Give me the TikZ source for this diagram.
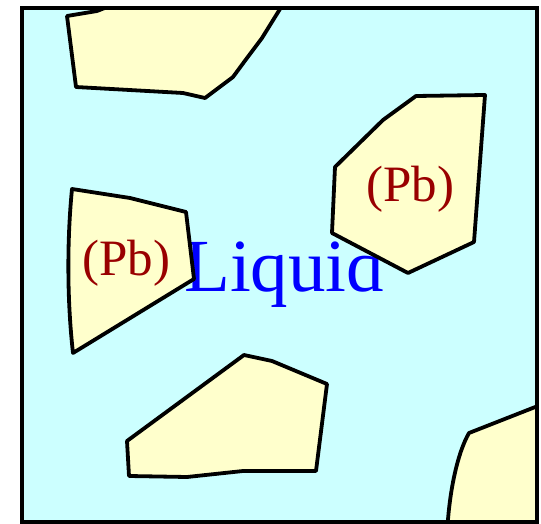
\documentclass[tikz,border=0pt]{standalone}
\usepackage{fontspec}
\setmainfont{Liberation Serif}
\definecolor{liq}{RGB}{204,255,255}
\definecolor{sol}{RGB}{255,255,204}
\definecolor{pbred}{RGB}{153,0,0}
\definecolor{liqblue}{RGB}{0,0,255}
\begin{document}
\begin{tikzpicture}[x=1pt,y=-1pt,
  grain/.style={fill=sol,draw=black,line width=3.8pt,line join=round},
  pblabel/.style={text=pbred,font=\fontsize{51}{51}\selectfont,inner sep=0pt,anchor=base},
  liqlabel/.style={text=liqblue,font=\fontsize{75}{75}\selectfont,inner sep=0pt,anchor=base west}]
\useasboundingbox (0,0) rectangle (541,524);
\fill[liq] (22,8) rectangle (537,522);
\node[liqlabel] (liquid) at (184,291) {Liquid};
\begin{scope}
\clip (22,8) rectangle (537,522);
% top grain
\draw[grain] (67,16) -- (97,11) -- (120,2) -- (284,2) -- (280,9) -- (262,38) -- (247,58) -- (233,77) -- (205,98) -- (183,93) -- (76,87) -- cycle;
% right (Pb) grain
\draw[grain] (416,96) -- (485,95) -- (474,242) -- (408,273) -- (332,233) -- (335,167) -- (383,120) -- cycle;
% left (Pb) grain
\draw[grain] (72,189) -- (130,198) -- (186,212) -- (194,279) -- (73,353) .. controls (67,300) and (67,240) .. (72,189) -- cycle;
% bottom grain
\draw[grain] (244,355) -- (272,361) -- (327,384) -- (316,471) -- (243,471) -- (187,477) -- (129,476) -- (127,441) -- cycle;
% bottom right grain
\draw[grain] (548,402) -- (469,433) .. controls (458,452) and (449,490) .. (447,535) -- (548,535) -- cycle;
\end{scope}
\node[pblabel] (pbleft) at (126.5,275) {(Pb)};
\node[pblabel] (pbright) at (410.5,201) {(Pb)};
\draw[line width=3.4pt] (22,8) rectangle (537,522);
\end{tikzpicture}
\end{document}
